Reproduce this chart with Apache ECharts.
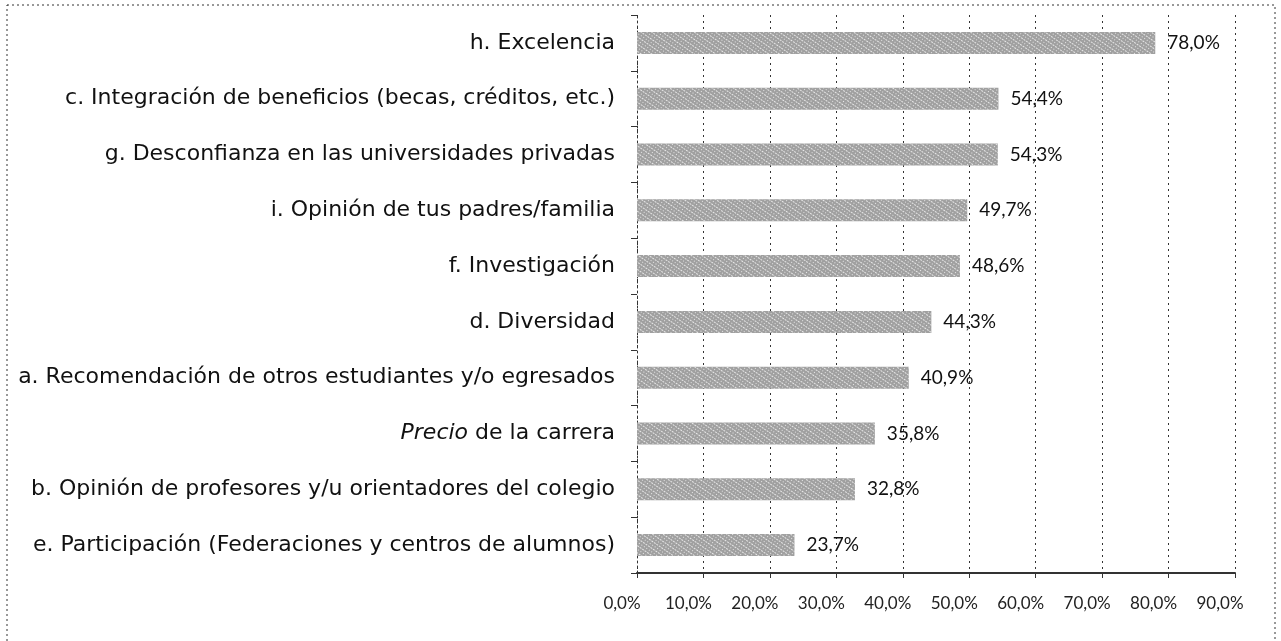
<!DOCTYPE html>
<html>
<head>
<meta charset="utf-8">
<script src="https://cdn.jsdelivr.net/npm/echarts@6/dist/echarts.min.js"></script>
<style>
  html, body { margin: 0; padding: 0; background: #fff; }
  #chart { width: 1281px; height: 641px; }
</style>
</head>
<body>
<div id="chart"></div>
<script>
// categories from bottom to top (category axis draws first item at bottom)
let categories = [
  'e. Participación (Federaciones y centros de alumnos)',
  'b. Opinión de profesores y/u orientadores del colegio',
  'Precio de la carrera',
  'a. Recomendación de otros estudiantes y/o egresados',
  'd. Diversidad',
  'f. Investigación',
  'i. Opinión de tus padres/familia',
  'g. Desconfianza en las universidades privadas',
  'c. Integración de beneficios (becas, créditos, etc.)',
  'h. Excelencia'
];
let values = [23.7, 32.8, 35.8, 40.9, 44.3, 48.6, 49.7, 54.3, 54.4, 78.0];
let xTicks = [0, 10, 20, 30, 40, 50, 60, 70, 80, 90];

let fmtPct = function (v) {
  return v.toFixed(1).replace('.', ',') + '%';
};

let catFont = '"DejaVu Sans", "Open Sans", sans-serif';

let chart = echarts.init(document.getElementById('chart'));
chart.setOption({
  animation: false,
  grid: { left: 637, right: 46, top: 15, bottom: 68 },
  graphic: [{
    type: 'rect',
    shape: { x: 7, y: 5, width: 1268, height: 640 },
    style: { fill: 'none', stroke: '#333', lineWidth: 1, lineDash: [2, 3] },
    silent: true
  }],
  xAxis: {
    type: 'value',
    min: xTicks[0],
    max: xTicks[xTicks.length - 1],
    interval: 10,
    axisLine: { show: true, lineStyle: { color: '#333', width: 2 } },
    axisTick: { show: true, inside: false, length: 5, lineStyle: { color: '#333' } },
    axisLabel: {
      margin: 22,
      color: '#222',
      fontFamily: 'Lato, "Open Sans", sans-serif',
      fontSize: 17,
      padding: [0, 30, 0, 0],
      formatter: function (v) { return fmtPct(v); }
    },
    splitLine: { show: true, lineStyle: { color: '#333', type: [2, 4], width: 1 } }
  },
  yAxis: {
    type: 'category',
    data: categories,
    axisLine: { show: true, lineStyle: { color: '#333', type: [2, 3] } },
    axisTick: { show: true, length: 6, lineStyle: { color: '#333' } },
    axisLabel: {
      margin: 22,
      color: '#111',
      fontFamily: catFont,
      fontSize: 22,
      formatter: function (v) {
        if (v.indexOf('Precio') === 0) {
          return '{i|Precio}' + v.slice(6);
        }
        return v;
      },
      rich: {
        i: { fontStyle: 'italic', fontSize: 22, color: '#111', fontFamily: catFont }
      }
    }
  },
  series: [{
    type: 'bar',
    data: values,
    barWidth: 22,
    itemStyle: {
      color: '#a0a0a0',
      decal: {
        symbol: 'rect',
        symbolSize: 1,
        color: 'rgba(255,255,255,0.75)',
        dashArrayX: [[1, 2], [2, 1]],
        dashArrayY: [1, 2],
        rotation: 0.6
      }
    },
    label: {
      show: true,
      position: 'right',
      distance: 12,
      color: '#111',
      fontFamily: 'Lato, "Open Sans", sans-serif',
      fontSize: 19,
      formatter: function (p) { return fmtPct(p.value); }
    }
  }]
});
</script>
</body>
</html>
